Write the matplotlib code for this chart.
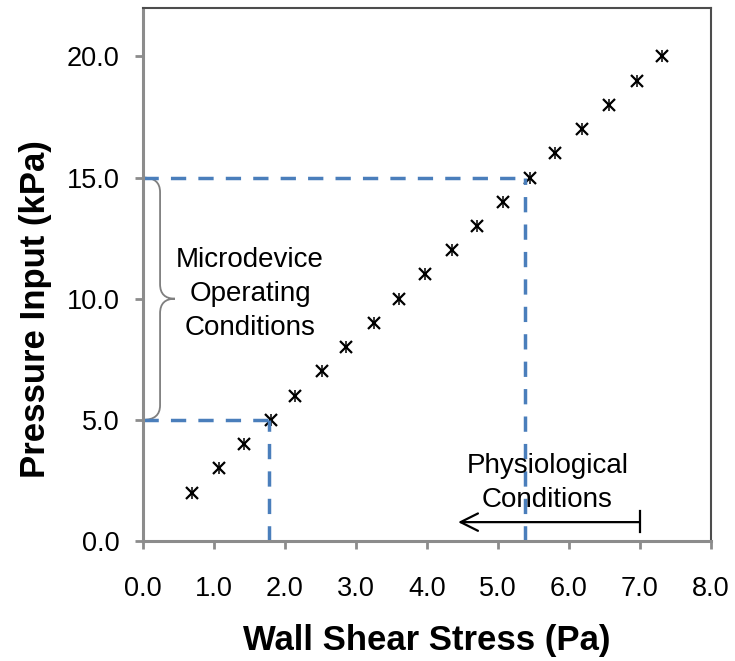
import matplotlib.pyplot as plt
from matplotlib.path import Path
from matplotlib.patches import PathPatch

plt.rcParams['font.family'] = ['Liberation Sans', 'DejaVu Sans']

# data
pressure_kpa = [2, 3, 4, 5, 6, 7, 8, 9, 10, 11, 12, 13, 14, 15, 16, 17, 18, 19, 20]
shear_pa = [0.69, 1.07, 1.42, 1.80, 2.14, 2.52, 2.86, 3.25, 3.61, 3.97,
            4.35, 4.70, 5.07, 5.45, 5.80, 6.18, 6.56, 6.96, 7.32]
x_ticks = [0, 1, 2, 3, 4, 5, 6, 7, 8]
y_ticks = [0, 5, 10, 15, 20]

# operating window guides (pressure, shear)
low_guide = (5.0, 1.77)
high_guide = (15.0, 5.38)

fig = plt.figure(figsize=(7.35, 6.61), dpi=100)
ax = fig.add_axes([0.1946, 0.1815, 0.7724, 0.8065])

ax.plot(shear_pa, pressure_kpa, linestyle='none', marker='x', color='black',
        markersize=8.5, markeredgewidth=1.6)
ax.plot(shear_pa, pressure_kpa, linestyle='none', marker='|', color='black',
        markersize=9, markeredgewidth=1.1)

blue = '#4a7ebb'
for p, s in (low_guide, high_guide):
    ax.plot([0, s], [p, p], color=blue, lw=2.5, dashes=(4.4, 3.5))
    ax.plot([s, s], [0, p], color=blue, lw=2.5, dashes=(4.4, 3.5))

# curly brace between the two guides
xm, xt = 0.24, 0.45
verts = [(0, 15), (xm, 15), (xm, 14.4), (xm, 10.6), (xm, 10), (xt, 10),
         (xm, 10), (xm, 9.4), (xm, 5.6), (xm, 5), (0, 5)]
codes = [Path.MOVETO, Path.CURVE3, Path.CURVE3, Path.LINETO, Path.CURVE3,
         Path.CURVE3, Path.CURVE3, Path.CURVE3, Path.LINETO, Path.CURVE3, Path.CURVE3]
ax.add_patch(PathPatch(Path(verts, codes), facecolor='none', edgecolor='#7f7f7f', lw=1.3))

ax.text(1.51, 10.2, 'Microdevice\nOperating\nConditions', ha='center', va='center',
        fontsize=20, linespacing=1.4)
ax.text(5.70, 2.4, 'Physiological\nConditions', ha='center', va='center',
        fontsize=20, linespacing=1.4)
ax.annotate('', xy=(4.44, 0.78), xytext=(7.0, 0.78),
            arrowprops=dict(arrowstyle='->, head_length=0.5, head_width=0.25',
                            color='black', lw=1.6, mutation_scale=25,
                            shrinkA=0, shrinkB=0))
ax.plot([7.0, 7.0], [0.37, 1.25], color='black', lw=1.6)

ax.set_xlim(0, 8)
ax.set_ylim(0, 22)
ax.set_xticks(x_ticks)
ax.set_xticklabels([f'{v:.1f}' for v in x_ticks])
ax.set_yticks(y_ticks)
ax.set_yticklabels([f'{v:.1f}' for v in y_ticks])
ax.tick_params(axis='both', labelsize=19.5, length=6, width=2, color='#8c8c8c',
               direction='out')
ax.tick_params(axis='x', pad=19)
ax.tick_params(axis='y', pad=11)

for side in ('left', 'bottom'):
    ax.spines[side].set_color('#8c8c8c')
    ax.spines[side].set_linewidth(2.2)
for side in ('top', 'right'):
    ax.spines[side].set_color('#4d4d4d')
    ax.spines[side].set_linewidth(1.5)

ax.set_xlabel('Wall Shear Stress (Pa)', fontsize=25, fontweight='bold', labelpad=16)
ax.set_ylabel('Pressure Input (kPa)', fontsize=25, fontweight='bold')
ax.yaxis.set_label_coords(-0.161, 0.435)

fig.savefig('out.png', dpi=100)
